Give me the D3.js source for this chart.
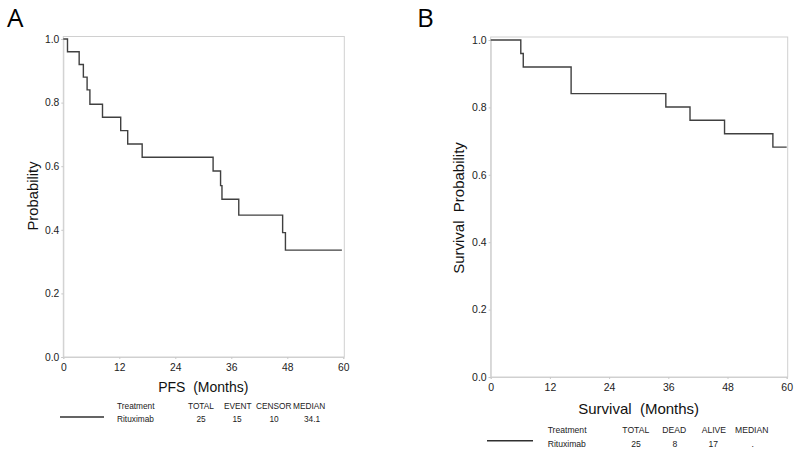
<!DOCTYPE html>
<html><head><meta charset="utf-8">
<script src="https://cdn.jsdelivr.net/npm/d3@7"></script>
<style>body{margin:0;background:#fff}svg{display:block}text{font-family:"Liberation Sans",Arial,sans-serif;white-space:pre}</style>
</head><body><svg id="c" width="800" height="459"></svg>
<script>
// Panel A: PFS Kaplan-Meier (months, survival probability)
const pfsTimes = [0, 0.9, 3.4, 4.3, 5.1, 5.7, 8.4, 12.3, 13.8, 16.9, 32.1, 33.7, 34.0, 37.6, 47.0, 47.6, 59.7];
const pfsProb  = [1.0, 0.96, 0.92, 0.88, 0.84, 0.795, 0.754, 0.712, 0.670, 0.628, 0.585, 0.539, 0.496, 0.446, 0.391, 0.336, 0.336];
// Panel B: Overall survival
const osTimes = [0, 6.1, 6.6, 16.3, 35.5, 40.4, 47.4, 57.2, 60];
const osProb  = [1.0, 0.96, 0.92, 0.841, 0.801, 0.762, 0.722, 0.682, 0.682];
const xTicks = [0, 12, 24, 36, 48, 60];
const yTicks = [0.0, 0.2, 0.4, 0.6, 0.8, 1.0];
const legendA = {head: ["Treatment", "TOTAL", "EVENT", "CENSOR", "MEDIAN"], row: ["Rituximab", "25", "15", "10", "34.1"]};
const legendB = {head: ["Treatment", "TOTAL", "DEAD", "ALIVE", "MEDIAN"], row: ["Rituximab", "25", "8", "17", "."]};

const svg = d3.select("#c");

function panel(cfg) {
  const g = svg.append("g");
  const x = d3.scaleLinear().domain([0, 60]).range([cfg.x0, cfg.x1]);
  const y = d3.scaleLinear().domain([0, 1]).range([cfg.y0, cfg.y1]);
  // frame
  g.append("rect").attr("x", cfg.x0).attr("y", cfg.top).attr("width", cfg.fr - cfg.x0).attr("height", cfg.y0 - cfg.top)
    .attr("fill", "none").attr("stroke", "#d0d0d0").attr("stroke-width", 1);
  const ax = g.append("g").attr("transform", `translate(0,${cfg.y0})`)
    .call(d3.axisBottom(x).tickValues(xTicks).tickFormat(d3.format("d")).tickSize(2).tickPadding(5));
  const ay = g.append("g").attr("transform", `translate(${cfg.x0},0)`)
    .call(d3.axisLeft(y).tickValues(yTicks).tickFormat(d3.format(".1f")).tickSize(2).tickPadding(2));
  [ax, ay].forEach(a => {
    a.select(".domain").attr("stroke", "#d0d0d0");
    a.selectAll(".tick line").attr("stroke", "#c8c8c8");
    a.selectAll("text").attr("fill", "#222").style("font-size", cfg.tickFs + "px").style("font-family", "Liberation Sans, Arial");
  });
  // curve
  const line = d3.line().x(d => x(d[0])).y(d => y(d[1])).curve(d3.curveStepAfter);
  g.append("path").datum(cfg.t.map((t, i) => [t, cfg.p[i]]))
    .attr("d", line).attr("fill", "none").attr("stroke", "#404040").attr("stroke-width", 1.4);
  // titles
  g.append("text").attr("x", (cfg.x0 + cfg.x1) / 2).attr("y", cfg.xtY).attr("text-anchor", "middle")
    .style("font-size", cfg.xtFs + "px").attr("fill", "#111").text(cfg.xTitle);
  g.append("text").attr("transform", `translate(${cfg.ytX},${cfg.ytY}) rotate(-90)`).attr("text-anchor", "middle")
    .style("font-size", cfg.ytFs + "px").attr("fill", "#111").text(cfg.yTitle);
  // panel letter
  g.append("text").attr("x", cfg.lx).attr("y", 27).style("font-size", "26px").attr("fill", "#000")
    .style("font-family", "Open Sans, Liberation Sans").text(cfg.letter);
  // legend
  g.append("line").attr("x1", cfg.leg.l0).attr("x2", cfg.leg.l1).attr("y1", cfg.leg.ly).attr("y2", cfg.leg.ly)
    .attr("stroke", "#303030").attr("stroke-width", 1.4);
  cfg.legend.head.forEach((h, i) => {
    g.append("text").attr("x", cfg.leg.hx[i]).attr("y", cfg.leg.y1).style("font-size", cfg.legFs + "px").attr("fill", "#222").text(h);
  });
  cfg.legend.row.forEach((h, i) => {
    g.append("text").attr("x", cfg.leg.rx[i]).attr("y", cfg.leg.y2).attr("text-anchor", i === 0 ? "start" : "middle")
      .style("font-size", cfg.legFs + "px").attr("fill", "#222").text(h);
  });
}

panel({x0: 63.3, x1: 343.3, fr: 344.3, y0: 357, y1: 39, top: 36.5, t: pfsTimes, p: pfsProb,
  tickFs: 10.3, xtFs: 14, ytFs: 14.8, xTitle: "PFS  (Months)", yTitle: "Probability", xtY: 392, ytX: 37.5, ytY: 196,
  letter: "A", lx: 7, legend: legendA, legFs: 8.3,
  leg: {l0: 60, l1: 104, ly: 417, y1: 409, y2: 422, hx: [117, 188, 224, 256, 293], rx: [117, 201, 237, 274, 312]}});

panel({x0: 490.7, x1: 786.7, fr: 787.7, y0: 377, y1: 40, top: 37, t: osTimes, p: osProb,
  tickFs: 10.5, xtFs: 15, ytFs: 15, xTitle: "Survival  (Months)", yTitle: "Survival  Probability", xtY: 414, ytX: 464, ytY: 208,
  letter: "B", lx: 417, legend: legendB, legFs: 8.6,
  leg: {l0: 487, l1: 533, ly: 440.7, y1: 432.5, y2: 446.5, hx: [547.7, 622.3, 662.3, 701.7, 735], rx: [547.7, 636, 675, 713.3, 752.7]}});
</script></body></html>
